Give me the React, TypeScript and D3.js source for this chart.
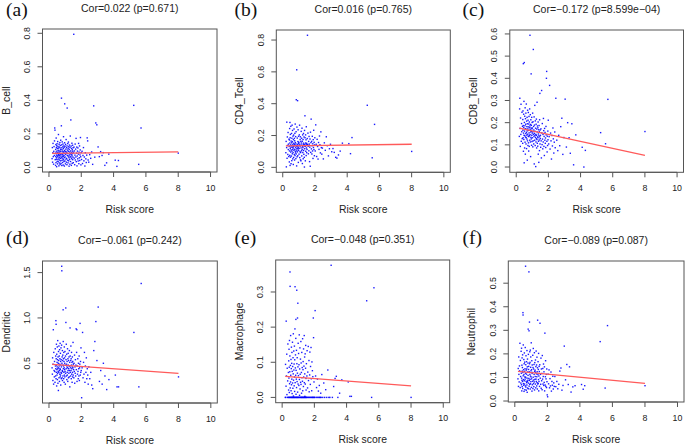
import React from 'react';
import * as d3 from 'd3';

// Risk score (shared x for every panel), sorted
const risk = [
  0.193, 0.211, 0.224, 0.242, 0.252, 0.268, 0.286, 0.297, 0.314, 0.331, 0.343, 0.357, 0.372, 0.388,
  0.401, 0.409, 0.414, 0.420, 0.427, 0.436, 0.441, 0.447, 0.455, 0.461,
  0.468, 0.474, 0.480, 0.487, 0.494, 0.501, 0.507, 0.515, 0.521, 0.527,
  0.534, 0.540, 0.548, 0.554, 0.560, 0.567, 0.575, 0.581, 0.587, 0.594,
  0.600, 0.608, 0.614, 0.620, 0.627, 0.635, 0.641, 0.647, 0.655, 0.661,
  0.667, 0.675, 0.681, 0.688, 0.694, 0.700, 0.707, 0.715, 0.721, 0.727,
  0.734, 0.742, 0.747, 0.753, 0.761, 0.768, 0.774, 0.780, 0.787, 0.794,
  0.801, 0.808, 0.814, 0.821, 0.828, 0.834, 0.840, 0.847, 0.854, 0.862,
  0.867, 0.874, 0.881, 0.888, 0.894, 0.901, 0.907, 0.915, 0.921, 0.927,
  0.934, 0.940, 0.948, 0.954, 0.961, 0.968, 0.974, 0.980, 0.987, 0.994,
  1.003, 1.011, 1.020, 1.029, 1.037, 1.045, 1.054, 1.062, 1.070, 1.079,
  1.087, 1.094, 1.103, 1.112, 1.120, 1.128, 1.136, 1.145, 1.154, 1.162,
  1.170, 1.179, 1.187, 1.195, 1.204, 1.212, 1.219, 1.228, 1.237, 1.245,
  1.253, 1.261, 1.270, 1.279, 1.287, 1.295, 1.303, 1.311, 1.320, 1.329,
  1.337, 1.345, 1.353, 1.361, 1.370, 1.378, 1.386, 1.395, 1.403, 1.411,
  1.420, 1.429, 1.437, 1.445, 1.454, 1.462, 1.470, 1.479, 1.487, 1.495,
  1.506, 1.520, 1.535, 1.549, 1.564, 1.578, 1.591, 1.607, 1.621, 1.634,
  1.649, 1.664, 1.678, 1.691, 1.707, 1.721, 1.734, 1.749, 1.763, 1.779,
  1.792, 1.807, 1.821, 1.834, 1.849, 1.864, 1.878, 1.892, 1.905, 1.921,
  1.935, 1.949, 1.964, 1.977, 1.992,
  2.018, 2.047, 2.076, 2.104, 2.135, 2.163, 2.191, 2.222, 2.250, 2.281, 2.308, 2.336, 2.366, 2.395, 2.424,
  2.462, 2.521, 2.583, 2.641, 2.704, 2.768, 2.835, 2.897, 2.962, 3.041,
  3.118, 3.197, 3.286, 3.362, 3.458, 3.566, 3.703, 4.102, 4.205, 4.298,
  5.247, 5.553, 5.698, 8.003,
];

const bCell = [
  0.052, 0.118, 0.031, 0.087, 0.143, 0.064, 0.019, 0.096, 0.124, 0.071, 0.158, 0.235, 0.222, 0.046,
  0.083, 0.012, 0.107, 0.064, 0.136, 0.028, 0.091, 0.175, 0.049, 0.118,
  0.073, 0.004, 0.129, 0.058, 0.097, 0.141, 0.036, 0.082, 0.113, 0.067,
  0.021, 0.154, 0.088, 0.047, 0.125, 0.069, 0.102, 0.033, 0.196, 0.078,
  0.115, 0.056, 0.009, 0.093, 0.138, 0.071, 0.044, 0.121, 0.085, 0.026,
  0.061, 0.148, 0.099, 0.017, 0.076, 0.131, 0.053, 0.108, 0.039, 0.162,
  0.094, 0.068, 0.023, 0.117, 0.081, 0.248, 0.413, 0.057, 0.134, 0.011,
  0.106, 0.042, 0.079, 0.152, 0.063, 0.097, 0.029, 0.122, 0.074, 0.051,
  0.139, 0.087, 0.014, 0.112, 0.066, 0.183, 0.045, 0.093, 0.128, 0.035,
  0.072, 0.119, 0.058, 0.008, 0.101, 0.147, 0.379, 0.084, 0.038, 0.126,
  0.062, 0.095, 0.021, 0.137, 0.077, 0.109, 0.049, 0.166, 0.086, 0.031,
  0.118, 0.054, 0.092, 0.016, 0.128, 0.354, 0.071, 0.103, 0.043, 0.142,
  0.083, 0.027, 0.114, 0.067, 0.151, 0.096, 0.039, 0.124, 0.058, 0.007,
  0.107, 0.074, 0.133, 0.048, 0.091, 0.019, 0.119, 0.065, 0.187, 0.082,
  0.035, 0.098, 0.283, 0.061, 0.127, 0.076, 0.012, 0.113, 0.052, 0.089,
  0.144, 0.069, 0.024, 0.105, 0.081, 0.132, 0.046, 0.096, 0.061, 0.117,
  0.028, 0.087, 0.794, 0.121, 0.055, 0.098, 0.016, 0.073, 0.139, 0.044,
  0.109, 0.062, 0.173, 0.034, 0.085, 0.121, 0.009, 0.068, 0.097, 0.051,
  0.116, 0.038, 0.079, 0.143, 0.022, 0.091, 0.057, 0.128, 0.041, 0.074,
  0.104, 0.178, 0.063, 0.015, 0.088,
  0.047, 0.096, 0.023, 0.071, 0.118, 0.039, 0.062, 0.008, 0.087, 0.051, 0.029, 0.073, 0.176, 0.158, 0.044,
  0.031, 0.076, 0.054, 0.092, 0.018, 0.367, 0.061, 0.265, 0.254, 0.122,
  0.064, 0.094, 0.071, 0.088, 0.012, 0.027, 0.079, 0.043, 0.006, 0.041,
  0.370, 0.018, 0.235, 0.085,
];

const cd4Tcell = [
  0.092, 0.163, 0.003, 0.124, 0.284, 0.057, 0.191, 0.138, 0.081, 0.219, 0.112, 0.146, 0.068, 0.177,
  0.131, 0.034, 0.172, 0.103, 0.244, 0.075, 0.153, 0.282, 0.012, 0.186,
  0.118, 0.207, 0.064, 0.141, 0.096, 0.258, 0.127, 0.023, 0.165, 0.109,
  0.137, 0.071, 0.213, 0.154, 0.042, 0.183, 0.102, 0.265, 0.126, 0.085,
  0.161, 0.232, 0.114, 0.053, 0.143, 0.196, 0.093, 0.132, 0.018, 0.174,
  0.122, 0.062, 0.203, 0.151, 0.107, 0.241, 0.134, 0.081, 0.182, 0.145,
  0.046, 0.167, 0.113, 0.214, 0.074, 0.138, 0.272, 0.101, 0.156, 0.091,
  0.193, 0.126, 0.055, 0.147, 0.224, 0.084, 0.425, 0.116, 0.135, 0.009,
  0.613, 0.104, 0.253, 0.066, 0.133, 0.184, 0.097, 0.142, 0.419, 0.121,
  0.073, 0.162, 0.115, 0.236, 0.148, 0.031, 0.127, 0.195, 0.106, 0.158,
  0.152, 0.083, 0.119, 0.204, 0.137, 0.265, 0.061, 0.143, 0.098, 0.175,
  0.134, 0.192, 0.047, 0.093, 0.163, 0.041, 0.122, 0.226, 0.153, 0.104,
  0.183, 0.072, 0.141, 0.246, 0.112, 0.164, 0.024, 0.131, 0.204, 0.093,
  0.124, 0.175, 0.054, 0.152, 0.213, 0.106, 0.143, 0.082, 0.191, 0.135,
  0.063, 0.002, 0.232, 0.117, 0.145, 0.324, 0.186, 0.132, 0.041, 0.153,
  0.204, 0.101, 0.137, 0.173, 0.074, 0.255, 0.122, 0.151, 0.092, 0.143,
  0.113, 0.181, 0.830, 0.144, 0.215, 0.132, 0.085, 0.163, 0.104, 0.194,
  0.146, 0.036, 0.127, 0.178, 0.007, 0.221, 0.094, 0.155, 0.303, 0.116,
  0.163, 0.084, 0.136, 0.195, 0.103, 0.148, 0.056, 0.174, 0.125, 0.233,
  0.112, 0.157, 0.073, 0.141, 0.186,
  0.103, 0.267, 0.145, 0.068, 0.176, 0.131, 0.052, 0.156, 0.113, 0.197, 0.142, 0.091, 0.223, 0.124, 0.083,
  0.121, 0.053, 0.154, 0.107, 0.192, 0.136, 0.072, 0.117, 0.145, 0.098,
  0.118, 0.094, 0.063, 0.058, 0.078, 0.102, 0.152, 0.149, 0.086, 0.187,
  0.390, 0.060, 0.270, 0.100,
];

const cd8Tcell = [
  0.138, 0.262, 0.310, 0.174, 0.093, 0.221, 0.147, 0.283, 0.116, 0.196, 0.159, 0.247, 0.128, 0.183,
  0.107, 0.214, 0.166, 0.253, 0.132, 0.187, 0.466, 0.071, 0.153, 0.238,
  0.178, 0.124, 0.296, 0.143, 0.019, 0.471, 0.201, 0.162, 0.086, 0.229,
  0.141, 0.186, 0.112, 0.267, 0.173, 0.058, 0.218, 0.135, 0.193, 0.151,
  0.243, 0.104, 0.171, 0.132, 0.284, 0.156, 0.083, 0.207, 0.144, 0.182,
  0.126, 0.224, 0.163, 0.031, 0.195, 0.118, 0.256, 0.148, 0.172, 0.097,
  0.211, 0.139, 0.181, 0.246, 0.109, 0.165, 0.072, 0.194, 0.137, 0.228,
  0.154, 0.093, 0.203, 0.142, 0.177, 0.262, 0.121, 0.185, 0.594, 0.146,
  0.168, 0.236, 0.113, 0.192, 0.047, 0.158, 0.213, 0.134, 0.176, 0.420,
  0.127, 0.188, 0.161, 0.098, 0.224, 0.143, 0.172, 0.115, 0.201, 0.153,
  0.176, 0.132, 0.243, 0.091, 0.159, 0.204, 0.118, 0.530, 0.147, 0.183,
  0.104, 0.167, 0.138, 0.226, 0.014, 0.152, 0.189, 0.121, 0.278, 0.143,
  0.161, 0.097, 0.208, 0.134, 0.175, 0.002, 0.147, 0.113, 0.193, 0.128,
  0.216, 0.143, 0.086, 0.171, 0.124, 0.292, 0.158, 0.107, 0.185, 0.136,
  0.094, 0.177, 0.132, 0.203, 0.058, 0.149, 0.116, 0.168, 0.021, 0.141,
  0.187, 0.122, 0.159, 0.074, 0.213, 0.136, 0.332, 0.104, 0.167, 0.128,
  0.143, 0.089, 0.172, 0.118, 0.041, 0.345, 0.154, 0.101, 0.196, 0.126,
  0.082, 0.147, 0.113, 0.219, 0.164, 0.093, 0.138, 0.052, 0.174, 0.121,
  0.156, 0.107, 0.131, 0.088, 0.183, 0.145, 0.400, 0.431, 0.116, 0.068,
  0.139, 0.097, 0.162, 0.123, 0.211,
  0.104, 0.137, 0.368, 0.081, 0.153, 0.118, 0.036, 0.142, 0.095, 0.176, 0.127, 0.063, 0.112, 0.158, 0.087,
  0.310, 0.121, 0.074, 0.143, 0.096, 0.182, 0.220, 0.057, 0.133, 0.306,
  0.090, 0.200, 0.132, 0.062, 0.195, 0.010, 0.145, 0.089, 0.000, 0.075,
  0.155, 0.105, 0.305, 0.160,
];

const dendritic = [
  0.45, 0.38, 0.56, 0.31, 0.49, 0.87, 0.27, 0.62, 0.42, 0.35, 0.52, 0.41, 0.29, 0.66,
  0.47, 0.36, 0.58, 0.44, 0.97, 0.33, 0.93, 0.55, 0.40, 0.71,
  0.48, 0.25, 0.60, 0.43, 0.37, 0.51, 0.46, 0.68, 0.32, 0.54,
  0.39, 0.75, 0.44, 0.28, 0.57, 0.41, 0.50, 0.20, 0.63, 0.45,
  0.53, 0.40, 0.69, 0.34, 0.47, 0.58, 0.42, 0.30, 0.65, 0.49,
  0.38, 0.55, 0.44, 0.72, 0.35, 0.43, 0.61, 0.37, 0.52, 0.26,
  0.48, 0.67, 0.40, 0.54, 0.33, 0.46, 0.39, 0.70, 1.57, 1.52,
  0.50, 0.34, 0.57, 0.42, 0.64, 0.31, 0.53, 0.41, 0.59, 0.36,
  0.48, 1.09, 0.74, 0.44, 0.55, 0.47, 0.33, 0.62, 0.40, 0.52,
  0.29, 0.45, 0.68, 0.37, 0.56, 0.43, 0.50, 0.35, 0.63, 0.41,
  0.48, 0.27, 0.58, 0.39, 1.11, 0.95, 0.54, 0.44, 0.71, 0.36,
  0.49, 0.60, 0.32, 0.46, 0.52, 0.40, 0.37, 0.66, 0.45, 0.30,
  0.55, 0.42, 0.61, 0.48, 0.34, 0.53, 0.44, 0.39, 0.57, 0.47,
  0.35, 0.64, 0.42, 0.51, 0.24, 0.47, 0.89, 0.58, 0.40, 0.45,
  0.36, 0.53, 0.69, 0.42, 0.55, 0.33, 0.48, 0.62, 0.38, 0.44,
  0.51, 0.29, 0.46, 0.57, 0.40, 0.35, 0.52, 0.45, 0.73, 0.37,
  0.49, 0.43, 0.34, 0.50, 0.41, 0.59, 0.28, 0.46, 0.39, 0.54,
  0.36, 0.48, 0.88, 0.43, 0.62, 0.87, 0.30, 0.47, 0.38, 0.55,
  0.41, 0.33, 0.50, 0.44, 0.36, 0.58, 0.31, 0.45, 0.49, 0.94,
  0.37, 0.52, 0.40, 0.67, 0.42,
  0.12, 0.45, 0.84, 0.34, 0.51, 0.38, 0.62, 0.29, 0.47, 0.40, 0.56, 0.33, 0.44, 0.37, 0.27,
  0.46, 0.33, 0.40, 0.26, 0.22, 0.64, 0.74, 0.96, 0.53, 1.12,
  0.30, 0.42, 0.27, 0.50, 0.36, 0.21, 0.32, 0.37, 0.24, 0.24,
  0.84, 0.24, 1.38, 0.35,
];

const macrophage = [
  0.000, 0.094, 0.000, 0.032, 0.217, 0.061, 0.123, 0.008, 0.083, 0.000, 0.047, 0.152, 0.000, 0.071,
  0.021, 0.104, 0.000, 0.055, 0.137, 0.000, 0.086, 0.014, 0.162, 0.039,
  0.000, 0.073, 0.118, 0.357, 0.316, 0.027, 0.000, 0.091, 0.044, 0.176,
  0.063, 0.000, 0.108, 0.019, 0.000, 0.082, 0.143, 0.036, 0.000, 0.097,
  0.052, 0.128, 0.000, 0.011, 0.074, 0.000, 0.157, 0.041, 0.088, 0.000,
  0.026, 0.113, 0.000, 0.067, 0.181, 0.004, 0.049, 0.000, 0.132, 0.078,
  0.000, 0.095, 0.033, 0.000, 0.146, 0.058, 0.017, 0.107, 0.000, 0.195,
  0.315, 0.042, 0.000, 0.084, 0.121, 0.000, 0.063, 0.168, 0.222, 0.009,
  0.077, 0.000, 0.052, 0.134, 0.028, 0.000, 0.305, 0.096, 0.000, 0.045,
  0.113, 0.000, 0.069, 0.226, 0.015, 0.000, 0.268, 0.087, 0.038, 0.154,
  0.000, 0.062, 0.125, 0.000, 0.034, 0.093, 0.000, 0.178, 0.051, 0.006,
  0.081, 0.000, 0.141, 0.024, 0.066, 0.000, 0.109, 0.043, 0.000, 0.159,
  0.037, 0.098, 0.000, 0.071, 0.012, 0.000, 0.128, 0.056, 0.000, 0.085,
  0.000, 0.046, 0.167, 0.019, 0.000, 0.079, 0.102, 0.000, 0.031, 0.138,
  0.058, 0.000, 0.089, 0.000, 0.176, 0.042, 0.000, 0.115, 0.067, 0.003,
  0.000, 0.124, 0.038, 0.000, 0.083, 0.148, 0.000, 0.054, 0.021, 0.000,
  0.096, 0.000, 0.061, 0.133, 0.000, 0.027, 0.072, 0.000, 0.145, 0.048,
  0.000, 0.105, 0.016, 0.000, 0.064, 0.129, 0.000, 0.037, 0.088, 0.000,
  0.142, 0.053, 0.000, 0.019, 0.101, 0.000, 0.076, 0.000, 0.059, 0.000,
  0.226, 0.170, 0.000, 0.044, 0.000,
  0.000, 0.247, 0.061, 0.000, 0.028, 0.000, 0.052, 0.000, 0.018, 0.000, 0.034, 0.000, 0.000, 0.012, 0.000,
  0.065, 0.000, 0.041, 0.000, 0.022, 0.000, 0.078, 0.000, 0.000, 0.376,
  0.000, 0.031, 0.054, 0.060, 0.000, 0.012, 0.050, 0.044, 0.003, 0.003,
  0.275, 0.000, 0.312, 0.000,
];

const neutrophil = [
  0.094, 0.138, 0.062, 0.187, 0.113, 0.081, 0.149, 0.128, 0.245, 0.057, 0.172, 0.104, 0.076, 0.211,
  0.118, 0.069, 0.224, 0.097, 0.043, 0.152, 0.088, 0.183, 0.061, 0.127,
  0.142, 0.083, 0.196, 0.053, 0.121, 0.375, 0.365, 0.107, 0.238, 0.074,
  0.091, 0.133, 0.067, 0.176, 0.112, 0.041, 0.158, 0.086, 0.204, 0.126,
  0.072, 0.165, 0.102, 0.048, 0.137, 0.093, 0.227, 0.064, 0.118, 0.572,
  0.101, 0.154, 0.059, 0.192, 0.084, 0.131, 0.046, 0.114, 0.167, 0.078,
  0.136, 0.068, 0.214, 0.097, 0.037, 0.145, 0.082, 0.178, 0.055, 0.123,
  0.088, 0.161, 0.109, 0.305, 0.052, 0.198, 0.076, 0.134, 0.147, 0.096,
  0.548, 0.298, 0.063, 0.124, 0.087, 0.335, 0.158, 0.071, 0.209, 0.113,
  0.164, 0.092, 0.051, 0.216, 0.106, 0.073, 0.143, 0.187, 0.082, 0.128,
  0.102, 0.247, 0.058, 0.133, 0.094, 0.171, 0.042, 0.117, 0.153, 0.069,
  0.121, 0.084, 0.194, 0.053, 0.142, 0.101, 0.223, 0.074, 0.136, 0.089,
  0.061, 0.155, 0.113, 0.081, 0.205, 0.047, 0.126, 0.163, 0.092, 0.131,
  0.104, 0.072, 0.174, 0.122, 0.056, 0.146, 0.093, 0.212, 0.083, 0.115,
  0.153, 0.064, 0.103, 0.186, 0.078, 0.124, 0.051, 0.141, 0.343, 0.072,
  0.112, 0.167, 0.075, 0.134, 0.091, 0.202, 0.043, 0.106, 0.083, 0.147,
  0.125, 0.062, 0.154, 0.330, 0.097, 0.113, 0.071, 0.182, 0.054, 0.136,
  0.086, 0.117, 0.048, 0.193, 0.093, 0.138, 0.072, 0.104, 0.157, 0.066,
  0.124, 0.079, 0.145, 0.043, 0.288, 0.068, 0.103, 0.171, 0.062, 0.094,
  0.113, 0.057, 0.136, 0.082, 0.026,
  0.018, 0.114, 0.073, 0.132, 0.056, 0.095, 0.064, 0.123, 0.042, 0.083, 0.067, 0.105, 0.051, 0.077, 0.062,
  0.104, 0.061, 0.083, 0.052, 0.071, 0.127, 0.140, 0.046, 0.066, 0.233,
  0.090, 0.155, 0.070, 0.145, 0.038, 0.060, 0.065, 0.070, 0.050, 0.065,
  0.252, 0.055, 0.320, 0.065,
];

const panelTags = ['(a)', '(b)', '(c)', '(d)', '(e)', '(f)'];
const cellTypes = ['B_cell', 'CD4_Tcell', 'CD8_Tcell', 'Dendritic', 'Macrophage', 'Neutrophil'];
const corTitles = [
  'Cor=0.022 (p=0.671)',
  'Cor=0.016 (p=0.765)',
  'Cor=\u22120.172 (p=8.599e\u221204)',
  'Cor=\u22120.061 (p=0.242)',
  'Cor=\u22120.048 (p=0.351)',
  'Cor=\u22120.089 (p=0.087)',
];
const yTickValues = [
  [0, 0.2, 0.4, 0.6, 0.8],
  [0, 0.2, 0.4, 0.6, 0.8],
  [0, 0.1, 0.2, 0.3, 0.4, 0.5, 0.6],
  [0.5, 1.0, 1.5],
  [0, 0.1, 0.2, 0.3],
  [0, 0.1, 0.2, 0.3, 0.4, 0.5],
];
const xTickValues = [0, 2, 4, 6, 8, 10];
const xLimits = [0, 10];
const fitAtMin = [0.084, 0.135, 0.175, 0.489, 0.060, 0.126];
const fitAtMax = [0.092, 0.145, 0.0525, 0.389, 0.033, 0.075];

const seriesList = [bCell, cd4Tcell, cd8Tcell, dendritic, macrophage, neutrophil];

// Layout (plot box per panel, in px)
const boxes = [
  { l: 42.5, r: 217, t: 29, b: 172 },
  { l: 276.3, r: 450.3, t: 30, b: 172.3 },
  { l: 509.8, r: 683.5, t: 30, b: 172.3 },
  { l: 42.5, r: 217.3, t: 261, b: 403 },
  { l: 275.7, r: 449.7, t: 260, b: 402.7 },
  { l: 508.3, r: 684, t: 261, b: 402 },
];
const tagPos = [
  { x: 6, y: 15.5 },
  { x: 234.5, y: 15.5 },
  { x: 462.5, y: 15.5 },
  { x: 6, y: 243.5 },
  { x: 234.5, y: 243.5 },
  { x: 462.5, y: 243.5 },
];

const SANS = '"Liberation Sans", Arial, sans-serif';
const SERIF = '"Liberation Serif", "Times New Roman", serif';

function Panel({ i }: { i: number }) {
  const box = boxes[i];
  const ys = seriesList[i];
  const xPad = (xLimits[1] - xLimits[0]) * 0.04;
  const x = d3.scaleLinear().domain([xLimits[0] - xPad, xLimits[1] + xPad]).range([box.l, box.r]);
  const [ymin, ymax] = d3.extent(ys) as [number, number];
  const yPad = (ymax - ymin) * 0.04;
  const y = d3.scaleLinear().domain([ymin - yPad, ymax + yPad]).range([box.b, box.t]);
  const fmt = d3.format('.1f');
  const xMin = d3.min(risk) as number;
  const xMax = d3.max(risk) as number;
  const line = d3.line<[number, number]>().x((d) => x(d[0])).y((d) => y(d[1]));
  const cx = (box.l + box.r) / 2;
  const cy = (box.t + box.b) / 2;
  const tickLen = 5;
  return (
    <g>
      <text x={tagPos[i].x} y={tagPos[i].y} fontFamily={SERIF} fontSize={19.5} fill="#111">
        {panelTags[i]}
      </text>
      <text x={cx} y={box.t - 21.5} fontFamily={SANS} fontSize={10.5} fill="#222" textAnchor="middle" dominantBaseline="central">
        {corTitles[i]}
      </text>
      <g fill="#0000ff">
        {risk.map((r, k) => (
          <rect key={k} x={x(r) - 0.7} y={y(ys[k]) - 0.7} width={1.4} height={1.4} opacity={0.9} />
        ))}
      </g>
      <path
        d={line([[xMin, fitAtMin[i]], [xMax, fitAtMax[i]]]) || ''}
        stroke="#ff5a5a"
        strokeWidth={1.3}
        fill="none"
      />
      <rect x={box.l} y={box.t} width={box.r - box.l} height={box.b - box.t} fill="none" stroke="#555" strokeWidth={1} />
      <line x1={x(xTickValues[0])} x2={x(xTickValues[xTickValues.length - 1])} y1={box.b} y2={box.b} stroke="#555" />
      {xTickValues.map((t) => (
        <g key={t}>
          <line x1={x(t)} x2={x(t)} y1={box.b} y2={box.b + tickLen} stroke="#555" />
          <text x={x(t)} y={box.b + 15.7} fontFamily={SANS} fontSize={8.8} fill="#222" textAnchor="middle" dominantBaseline="central">
            {t}
          </text>
        </g>
      ))}
      {yTickValues[i].map((t) => (
        <g key={t}>
          <line x1={box.l - tickLen} x2={box.l} y1={y(t)} y2={y(t)} stroke="#555" />
          <text
            transform={`translate(${box.l - 15.5},${y(t)}) rotate(-90)`}
            fontFamily={SANS}
            fontSize={8.8}
            fill="#222"
            textAnchor="middle"
            dominantBaseline="central"
          >
            {fmt(t)}
          </text>
        </g>
      ))}
      <text x={cx} y={box.b + 37} fontFamily={SANS} fontSize={10.4} fill="#222" textAnchor="middle" dominantBaseline="central">
        Risk score
      </text>
      <text
        transform={`translate(${box.l - 36.5},${cy}) rotate(-90)`}
        fontFamily={SANS}
        fontSize={10.4}
        fill="#222"
        textAnchor="middle"
        dominantBaseline="central"
      >
        {cellTypes[i]}
      </text>
    </g>
  );
}

export default function App() {
  return (
    <svg
      width={685}
      height={444}
      viewBox="0 0 685 444"
      style={{ position: 'absolute', left: 0, top: 0, background: '#fff' }}
    >
      <rect x={0} y={0} width={685} height={444} fill="#fff" />
      {seriesList.map((_, i) => (
        <Panel key={i} i={i} />
      ))}
    </svg>
  );
}
